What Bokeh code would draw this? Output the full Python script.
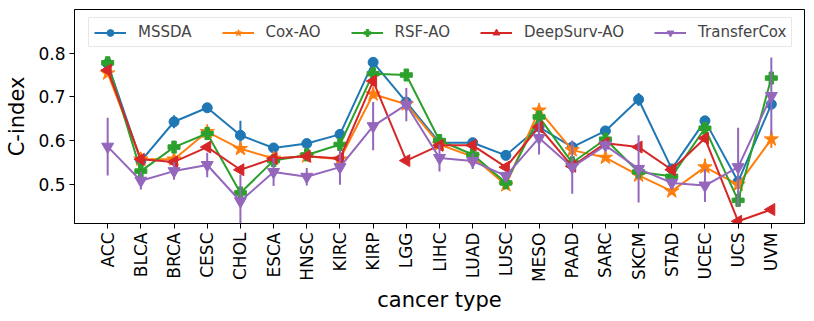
import math
from bokeh.plotting import figure
from bokeh.models import FactorRange, Range1d, Legend, LegendItem, FixedTicker
from bokeh.embed import file_html
from bokeh.resources import INLINE

cancer_types = ["ACC", "BLCA", "BRCA", "CESC", "CHOL", "ESCA", "HNSC", "KIRC", "KIRP", "LGG",
                "LIHC", "LUAD", "LUSC", "MESO", "PAAD", "SARC", "SKCM", "STAD", "UCEC", "UCS", "UVM"]

mssda = [0.776, 0.553, 0.643, 0.675, 0.612, 0.583, 0.593, 0.614, 0.779, 0.688, 0.595,
         0.595, 0.566, 0.631, 0.585, 0.622, 0.694, 0.535, 0.645, 0.506, 0.683]
mssda_err = [0.006, 0.006, 0.015, 0.006, 0.033, 0.005, 0.006, 0.008, 0.010, 0.006, 0.005,
             0.005, 0.005, 0.008, 0.006, 0.005, 0.015, 0.006, 0.006, 0.008, 0.010]

cox_ao = [0.754, 0.557, 0.557, 0.620, 0.581, 0.559, 0.564, 0.557, 0.706, 0.683, 0.591,
          0.563, 0.498, 0.669, 0.578, 0.561, 0.520, 0.484, 0.539, 0.499, 0.603]
cox_ao_err = [0.006, 0.006, 0.006, 0.010, 0.006, 0.005, 0.005, 0.006, 0.010, 0.006, 0.005,
              0.005, 0.006, 0.012, 0.006, 0.005, 0.006, 0.008, 0.020, 0.008, 0.020]

rsf_ao = [0.778, 0.530, 0.585, 0.616, 0.480, 0.554, 0.567, 0.591, 0.753, 0.750, 0.600,
          0.568, 0.503, 0.654, 0.549, 0.603, 0.528, 0.518, 0.628, 0.463, 0.743]
rsf_ao_err = [0.006, 0.006, 0.006, 0.006, 0.006, 0.005, 0.005, 0.006, 0.006, 0.006, 0.005,
              0.005, 0.005, 0.006, 0.006, 0.005, 0.006, 0.006, 0.006, 0.012, 0.008]

deepsurv_ao = [0.761, 0.557, 0.551, 0.585, 0.533, 0.559, 0.564, 0.559, 0.736, 0.554, 0.589,
               0.589, 0.539, 0.631, 0.541, 0.594, 0.585, 0.533, 0.605, 0.415, 0.442]
deepsurv_ao_err = [0.006, 0.006, 0.006, 0.006, 0.006, 0.005, 0.005, 0.006, 0.012, 0.005, 0.005,
                   0.005, 0.005, 0.006, 0.006, 0.005, 0.006, 0.006, 0.008, 0.005, 0.008]

transfercox = [0.586, 0.508, 0.530, 0.544, 0.461, 0.528, 0.517, 0.539, 0.633, 0.682, 0.560,
               0.553, 0.519, 0.606, 0.539, 0.589, 0.535, 0.503, 0.497, 0.539, 0.702]
transfercox_err = [0.066, 0.020, 0.020, 0.028, 0.061, 0.032, 0.020, 0.040, 0.055, 0.038, 0.031,
                   0.018, 0.012, 0.038, 0.061, 0.012, 0.077, 0.012, 0.038, 0.090, 0.088]

series = [
    ("MSSDA", mssda, mssda_err, "#1f77b4", "circle", 10, 0),
    ("Cox-AO", cox_ao, cox_ao_err, "#ff7f0e", "star", 15, 0),
    ("RSF-AO", rsf_ao, rsf_ao_err, "#2ca02c", "plus", 12, 0),
    ("DeepSurv-AO", deepsurv_ao, deepsurv_ao_err, "#d62728", "triangle", 12, math.pi / 2),
    ("TransferCox", transfercox, transfercox_err, "#9467bd", "inverted_triangle", 12, 0),
]

FONT = "DejaVu Sans"

p = figure(
    x_range=FactorRange(factors=cancer_types, range_padding=0.5, range_padding_units="absolute"),
    y_range=Range1d(0.41, 0.9),
    frame_width=730, frame_height=214,
    min_border_left=74, min_border_right=2, min_border_top=9, min_border_bottom=4,
    output_backend="svg", toolbar_location=None,
)

items = []
for name, vals, errs, color, marker, size, ang in series:
    lo = [v - e for v, e in zip(vals, errs)]
    hi = [v + e for v, e in zip(vals, errs)]
    er = p.segment(x0=cancer_types, y0=lo, x1=cancer_types, y1=hi, line_color=color, line_width=2)
    ln = p.line(x=cancer_types, y=vals, line_color=color, line_width=2)
    sc = p.scatter(x=cancer_types, y=vals, marker=marker, size=size, angle=ang,
                   fill_color=color, line_color=color)
    items.append(LegendItem(label=name, renderers=[ln, sc]))

legend = Legend(items=items, orientation="horizontal", location=(14, 176),
                label_text_font=FONT, label_text_font_size="15px",
                glyph_width=32, glyph_height=17, label_height=17,
                label_standoff=12, spacing=30, padding=5, margin=0,
                border_line_color="#d0d0d0", border_line_width=1,
                background_fill_alpha=0.8)
p.add_layout(legend, "center")

p.xgrid.visible = False
p.ygrid.visible = False
p.outline_line_color = "black"
p.outline_line_width = 1

p.yaxis.ticker = FixedTicker(ticks=[0.5, 0.6, 0.7, 0.8])
for ax in (p.xaxis[0], p.yaxis[0]):
    ax.axis_line_color = "black"
    ax.major_tick_line_color = "black"
    ax.major_tick_out = 5
    ax.major_tick_in = 0
    ax.minor_tick_line_color = None
    ax.major_label_text_font = FONT
    ax.major_label_text_font_size = "17px"
    ax.major_label_text_color = "black"
    ax.axis_label_text_font = FONT
    ax.axis_label_text_font_size = "21px"
    ax.axis_label_text_font_style = "normal"
    ax.axis_label_text_color = "black"
    ax.major_label_standoff = 4

p.xaxis.axis_label = "cancer type"
p.yaxis.axis_label = "C-index"
p.xaxis.major_label_orientation = math.pi / 2
p.xaxis.axis_label_standoff = 3
p.yaxis.axis_label_standoff = 6
p.xaxis.group_text_font_size = "0px"

open("out.html", "w").write(file_html(p, INLINE))
